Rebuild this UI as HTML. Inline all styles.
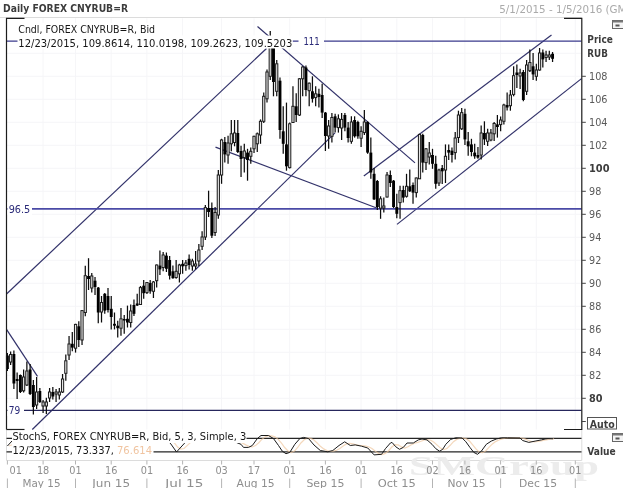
<!DOCTYPE html>
<html><head><meta charset="utf-8"><title>Daily FOREX CNYRUB=R</title>
<style>html,body{margin:0;padding:0;background:#fff}body{width:623px;height:488px;overflow:hidden}svg{display:block;filter:blur(0.45px)}</style></head>
<body>
<svg width="623" height="488" viewBox="0 0 623 488">
<style>
text{font-family:"DejaVu Sans","Liberation Sans",sans-serif;fill:#5a5a5a}
.b{font-weight:bold;fill:#3c3c3c}
.k{fill:#161616}
.lg{fill:#aaaaaa}
.bl{fill:#2a2a78}
.or{fill:#f0c4a0}
.ax{fill:#8e8e8e}
.wm{font-family:"Liberation Serif","DejaVu Serif",serif;font-weight:bold;fill:#ececec}
</style>
<rect x="0" y="0" width="623" height="488" fill="#fff"/>
<g stroke="#dcdcdc" stroke-width="1" fill="none"><path d="M0 17.5H581.8"/><path d="M6.5 460.5H581.8"/><path d="M581.8 429.5V460.5"/><path d="M6.5 429.5V460.5"/></g>
<text x="409" y="474.5" font-size="27" class="wm" textLength="190" lengthAdjust="spacingAndGlyphs">SMGroup</text>
<g stroke="#f6f6f8" stroke-width="1" fill="none"><path d="M43.1 18.3V429.5" /><path d="M75.5 18.3V429.5" /><path d="M111.2 18.3V429.5" /><path d="M146.9 18.3V429.5" /><path d="M182.6 18.3V429.5" /><path d="M221.6 18.3V429.5" /><path d="M254.0 18.3V429.5" /><path d="M289.7 18.3V429.5" /><path d="M325.4 18.3V429.5" /><path d="M361.1 18.3V429.5" /><path d="M396.8 18.3V429.5" /><path d="M432.5 18.3V429.5" /><path d="M464.9 18.3V429.5" /><path d="M500.6 18.3V429.5" /><path d="M536.3 18.3V429.5" /><path d="M575.3 18.3V429.5" /><path d="M6.5 398.3H581.8"/><path d="M6.5 375.3H581.8"/><path d="M6.5 352.3H581.8"/><path d="M6.5 329.3H581.8"/><path d="M6.5 306.3H581.8"/><path d="M6.5 283.3H581.8"/><path d="M6.5 260.3H581.8"/><path d="M6.5 237.3H581.8"/><path d="M6.5 214.3H581.8"/><path d="M6.5 191.3H581.8"/><path d="M6.5 168.3H581.8"/><path d="M6.5 145.3H581.8"/><path d="M6.5 122.3H581.8"/><path d="M6.5 99.3H581.8"/><path d="M6.5 76.3H581.8"/><path d="M6.5 53.3H581.8"/></g>
<g stroke="#32326a" stroke-width="1.2" fill="none">
<path d="M6.5 294.0L266.5 48.5"/>
<path d="M32.3 429.5L335.0 132.9"/>
<path d="M6.5 329.4L37.5 376.3"/>
<path d="M257.5 26.5L415.0 162.9"/>
<path d="M215.5 147.1L378.0 208.5"/>
<path d="M363.8 175.9L551.5 35.1"/>
<path d="M397.0 224.4L581.5 78.6"/>
</g>
<g fill="none">
<path d="M6.5 41.2H581.5" stroke="#3a3a8c" stroke-width="1.3"/>
<path d="M6.5 208.8H581.5" stroke="#4a4aa6" stroke-width="1.7"/>
<path d="M6.5 410.4H581.5" stroke="#26265c" stroke-width="1.2"/>
</g>
<g><style>.w{stroke:#0c0c0c;stroke-width:1.25;fill:none}.d{fill:#000;stroke:none}.u{fill:#e6e6e6;stroke:#1c1c1c;stroke-width:1}</style><path d="M7.40 353.0V371.0" class="w"/><rect x="5.95" y="355.5" width="2.9" height="13.5" class="d"/><path d="M10.64 351.5V365.0" class="w"/><rect x="9.54" y="354.5" width="2.2" height="7.5" class="u"/><path d="M13.89 350.5V389.0" class="w"/><rect x="12.44" y="354.0" width="2.9" height="29.5" class="d"/><path d="M17.13 372.6V399.0" class="w"/><rect x="15.68" y="379.0" width="2.9" height="2.0" class="d"/><path d="M20.38 374.5V393.0" class="w"/><rect x="18.93" y="375.0" width="2.9" height="17.0" class="d"/><path d="M23.62 369.5V392.5" class="w"/><rect x="22.52" y="377.0" width="2.2" height="13.8" class="u"/><path d="M26.87 361.5V386.0" class="w"/><rect x="25.77" y="371.0" width="2.2" height="14.0" class="u"/><path d="M30.12 364.0V395.0" class="w"/><rect x="28.67" y="369.5" width="2.9" height="24.5" class="d"/><path d="M33.36 380.0V414.5" class="w"/><rect x="31.91" y="385.0" width="2.9" height="22.0" class="d"/><path d="M36.61 377.0V409.0" class="w"/><rect x="35.51" y="392.0" width="2.2" height="13.0" class="u"/><path d="M39.85 388.0V403.0" class="w"/><rect x="38.40" y="391.0" width="2.9" height="11.0" class="d"/><path d="M43.09 400.0V413.0" class="w"/><rect x="41.99" y="402.0" width="2.2" height="4.0" class="u"/><path d="M46.34 397.7V414.0" class="w"/><rect x="45.24" y="402.0" width="2.2" height="4.0" class="u"/><path d="M49.59 388.0V402.0" class="w"/><rect x="48.48" y="392.0" width="2.2" height="6.0" class="u"/><path d="M52.83 387.0V399.6" class="w"/><rect x="51.38" y="392.0" width="2.9" height="4.5" class="d"/><path d="M56.08 389.0V402.0" class="w"/><rect x="54.98" y="392.0" width="2.2" height="2.0" class="u"/><path d="M59.32 388.0V399.5" class="w"/><rect x="58.22" y="392.0" width="2.2" height="3.0" class="u"/><path d="M62.56 374.0V393.0" class="w"/><rect x="61.46" y="379.0" width="2.2" height="13.0" class="u"/><path d="M65.81 354.5V380.8" class="w"/><rect x="64.71" y="360.8" width="2.2" height="12.5" class="u"/><path d="M69.06 336.0V360.0" class="w"/><rect x="67.96" y="344.0" width="2.2" height="11.0" class="u"/><path d="M72.30 332.0V351.3" class="w"/><rect x="70.85" y="343.8" width="2.9" height="3.8" class="d"/><path d="M75.55 323.8V352.6" class="w"/><rect x="74.45" y="324.4" width="2.2" height="23.8" class="u"/><path d="M78.79 321.3V347.0" class="w"/><rect x="77.34" y="326.3" width="2.9" height="13.7" class="d"/><path d="M82.04 310.0V345.0" class="w"/><rect x="80.94" y="310.6" width="2.2" height="29.4" class="u"/><path d="M85.28 265.7V316.3" class="w"/><rect x="84.18" y="275.7" width="2.2" height="36.8" class="u"/><path d="M88.53 258.2V290.0" class="w"/><rect x="87.08" y="276.0" width="2.9" height="3.0" class="d"/><path d="M91.77 273.0V292.6" class="w"/><rect x="90.67" y="276.0" width="2.2" height="12.0" class="u"/><path d="M95.02 277.0V295.0" class="w"/><rect x="93.57" y="280.7" width="2.9" height="6.3" class="d"/><path d="M98.26 287.0V323.2" class="w"/><rect x="96.81" y="287.6" width="2.9" height="24.9" class="d"/><path d="M101.51 296.0V322.5" class="w"/><rect x="100.41" y="302.5" width="2.2" height="9.5" class="u"/><path d="M104.75 293.0V313.8" class="w"/><rect x="103.30" y="293.8" width="2.9" height="16.8" class="d"/><path d="M108.00 288.0V312.5" class="w"/><rect x="106.55" y="296.0" width="2.9" height="14.0" class="d"/><path d="M111.24 296.0V329.4" class="w"/><rect x="109.79" y="308.8" width="2.9" height="8.2" class="d"/><path d="M114.49 312.5V329.4" class="w"/><rect x="113.04" y="323.8" width="2.9" height="1.9" class="d"/><path d="M117.73 320.7V337.6" class="w"/><rect x="116.28" y="325.7" width="2.9" height="2.5" class="d"/><path d="M120.98 308.0V335.7" class="w"/><rect x="119.88" y="318.8" width="2.2" height="9.4" class="u"/><path d="M124.22 315.0V333.8" class="w"/><rect x="122.77" y="319.0" width="2.9" height="1.5" class="d"/><path d="M127.47 305.6V327.5" class="w"/><rect x="126.02" y="318.8" width="2.9" height="3.7" class="d"/><path d="M130.71 304.4V327.5" class="w"/><rect x="129.61" y="311.0" width="2.2" height="11.5" class="u"/><path d="M133.96 299.5V316.0" class="w"/><rect x="132.51" y="305.0" width="2.9" height="8.8" class="d"/><path d="M137.20 293.8V306.0" class="w"/><rect x="135.75" y="303.5" width="2.9" height="2.0" class="d"/><path d="M140.45 286.0V305.0" class="w"/><rect x="139.35" y="287.6" width="2.2" height="16.9" class="u"/><path d="M143.69 280.0V298.8" class="w"/><rect x="142.24" y="285.7" width="2.9" height="7.5" class="d"/><path d="M146.94 282.0V294.0" class="w"/><rect x="145.84" y="282.5" width="2.2" height="10.1" class="u"/><path d="M150.18 280.0V293.8" class="w"/><rect x="148.73" y="283.0" width="2.9" height="8.3" class="d"/><path d="M153.43 281.0V298.0" class="w"/><rect x="152.33" y="282.0" width="2.2" height="9.3" class="u"/><path d="M156.67 264.4V287.6" class="w"/><rect x="155.57" y="265.0" width="2.2" height="15.7" class="u"/><path d="M159.92 250.6V275.0" class="w"/><rect x="158.47" y="265.6" width="2.9" height="3.8" class="d"/><path d="M163.16 252.0V271.3" class="w"/><rect x="162.06" y="255.0" width="2.2" height="12.5" class="u"/><path d="M166.41 252.5V272.0" class="w"/><rect x="164.96" y="255.6" width="2.9" height="13.2" class="d"/><path d="M169.65 256.0V279.4" class="w"/><rect x="168.20" y="260.0" width="2.9" height="15.7" class="d"/><path d="M172.90 265.6V278.8" class="w"/><rect x="171.45" y="271.3" width="2.9" height="6.9" class="d"/><path d="M176.14 260.0V278.8" class="w"/><rect x="175.04" y="271.3" width="2.2" height="6.2" class="u"/><path d="M179.39 263.8V282.5" class="w"/><rect x="178.29" y="265.0" width="2.2" height="8.8" class="u"/><path d="M182.63 260.0V273.8" class="w"/><rect x="181.18" y="263.8" width="2.9" height="2.5" class="d"/><path d="M185.88 260.0V270.7" class="w"/><rect x="184.78" y="263.0" width="2.2" height="2.6" class="u"/><path d="M189.12 254.4V269.4" class="w"/><rect x="187.67" y="258.8" width="2.9" height="6.2" class="d"/><path d="M192.37 258.8V270.7" class="w"/><rect x="191.27" y="261.0" width="2.2" height="5.0" class="u"/><path d="M195.61 251.0V269.4" class="w"/><rect x="194.51" y="264.0" width="2.2" height="2.0" class="u"/><path d="M198.86 244.0V266.0" class="w"/><rect x="197.76" y="250.0" width="2.2" height="11.0" class="u"/><path d="M202.10 231.3V250.0" class="w"/><rect x="201.00" y="237.0" width="2.2" height="9.3" class="u"/><path d="M205.34 205.0V240.0" class="w"/><rect x="204.25" y="207.6" width="2.2" height="29.4" class="u"/><path d="M208.59 190.7V217.0" class="w"/><rect x="207.14" y="208.0" width="2.9" height="4.0" class="d"/><path d="M211.84 202.6V238.0" class="w"/><rect x="210.39" y="208.0" width="2.9" height="27.7" class="d"/><path d="M215.08 207.0V236.0" class="w"/><rect x="213.98" y="212.5" width="2.2" height="20.0" class="u"/><path d="M218.33 170.0V218.8" class="w"/><rect x="217.23" y="175.0" width="2.2" height="40.0" class="u"/><path d="M221.57 138.8V183.8" class="w"/><rect x="220.47" y="140.0" width="2.2" height="35.0" class="u"/><path d="M224.82 137.0V162.6" class="w"/><rect x="223.37" y="142.0" width="2.9" height="12.4" class="d"/><path d="M228.06 135.7V163.8" class="w"/><rect x="226.96" y="143.0" width="2.2" height="12.0" class="u"/><path d="M231.31 120.0V151.3" class="w"/><rect x="230.21" y="133.8" width="2.2" height="10.0" class="u"/><path d="M234.55 120.0V146.3" class="w"/><rect x="233.45" y="133.0" width="2.2" height="9.5" class="u"/><path d="M237.80 120.0V153.0" class="w"/><rect x="236.35" y="133.0" width="2.9" height="19.0" class="d"/><path d="M241.04 145.7V177.0" class="w"/><rect x="239.59" y="151.0" width="2.9" height="8.0" class="d"/><path d="M244.29 143.8V172.5" class="w"/><rect x="243.19" y="151.0" width="2.2" height="6.6" class="u"/><path d="M247.53 148.8V180.7" class="w"/><rect x="246.08" y="152.6" width="2.9" height="7.4" class="d"/><path d="M250.78 147.6V163.8" class="w"/><rect x="249.68" y="151.3" width="2.2" height="5.0" class="u"/><path d="M254.02 135.7V153.0" class="w"/><rect x="252.92" y="136.3" width="2.2" height="12.5" class="u"/><path d="M257.26 132.5V152.0" class="w"/><rect x="256.16" y="133.8" width="2.2" height="10.0" class="u"/><path d="M260.51 119.4V143.8" class="w"/><rect x="259.41" y="121.3" width="2.2" height="13.7" class="u"/><path d="M263.75 92.5V123.0" class="w"/><rect x="262.65" y="96.3" width="2.2" height="25.0" class="u"/><path d="M267.00 69.4V102.6" class="w"/><rect x="265.90" y="72.0" width="2.2" height="26.8" class="u"/><path d="M270.25 31.0V80.0" class="w"/><rect x="269.14" y="40.0" width="2.2" height="36.3" class="u"/><path d="M273.49 42.0V96.3" class="w"/><rect x="272.04" y="45.0" width="2.9" height="37.0" class="d"/><path d="M276.74 60.0V96.3" class="w"/><rect x="275.63" y="63.8" width="2.2" height="27.5" class="u"/><path d="M279.98 77.5V138.8" class="w"/><rect x="278.53" y="80.7" width="2.9" height="49.3" class="d"/><path d="M283.22 106.3V153.8" class="w"/><rect x="281.77" y="131.3" width="2.9" height="12.5" class="d"/><path d="M286.47 102.6V170.7" class="w"/><rect x="285.02" y="144.4" width="2.9" height="21.9" class="d"/><path d="M289.71 122.5V168.5" class="w"/><rect x="288.61" y="123.8" width="2.2" height="43.8" class="u"/><path d="M292.96 86.3V123.0" class="w"/><rect x="291.86" y="106.3" width="2.2" height="16.2" class="u"/><path d="M296.20 93.2V122.0" class="w"/><rect x="294.75" y="106.3" width="2.9" height="8.7" class="d"/><path d="M299.45 78.0V116.0" class="w"/><rect x="298.35" y="78.8" width="2.2" height="36.2" class="u"/><path d="M302.69 66.3V96.3" class="w"/><rect x="301.59" y="67.0" width="2.2" height="11.8" class="u"/><path d="M305.94 65.6V96.3" class="w"/><rect x="304.49" y="67.5" width="2.9" height="22.5" class="d"/><path d="M309.19 82.5V106.3" class="w"/><rect x="308.08" y="83.2" width="2.2" height="7.5" class="u"/><path d="M312.43 76.3V102.6" class="w"/><rect x="310.98" y="91.3" width="2.9" height="7.5" class="d"/><path d="M315.68 86.3V106.3" class="w"/><rect x="314.57" y="93.8" width="2.2" height="3.8" class="u"/><path d="M318.92 88.8V107.6" class="w"/><rect x="317.47" y="93.8" width="2.9" height="3.2" class="d"/><path d="M322.16 83.8V118.0" class="w"/><rect x="320.71" y="95.0" width="2.9" height="17.6" class="d"/><path d="M325.41 112.0V151.0" class="w"/><rect x="323.96" y="112.6" width="2.9" height="23.4" class="d"/><path d="M328.65 120.0V148.8" class="w"/><rect x="327.55" y="126.0" width="2.2" height="10.0" class="u"/><path d="M331.90 113.0V142.6" class="w"/><rect x="330.80" y="117.5" width="2.2" height="18.8" class="u"/><path d="M335.14 113.8V132.6" class="w"/><rect x="333.69" y="116.3" width="2.9" height="11.3" class="d"/><path d="M338.39 114.4V132.6" class="w"/><rect x="337.29" y="118.8" width="2.2" height="8.8" class="u"/><path d="M341.63 113.0V140.0" class="w"/><rect x="340.53" y="119.4" width="2.2" height="8.6" class="u"/><path d="M344.88 113.0V131.3" class="w"/><rect x="343.43" y="115.0" width="2.9" height="12.6" class="d"/><path d="M348.12 122.0V142.6" class="w"/><rect x="346.68" y="127.6" width="2.9" height="10.4" class="d"/><path d="M351.37 116.3V143.8" class="w"/><rect x="350.27" y="122.0" width="2.2" height="19.3" class="u"/><path d="M354.62 116.3V137.6" class="w"/><rect x="353.17" y="120.0" width="2.9" height="16.3" class="d"/><path d="M357.86 120.7V138.8" class="w"/><rect x="356.41" y="122.0" width="2.9" height="14.3" class="d"/><path d="M361.10 126.3V147.0" class="w"/><rect x="360.00" y="131.3" width="2.2" height="6.9" class="u"/><path d="M364.35 110.0V135.0" class="w"/><rect x="363.25" y="122.0" width="2.2" height="10.6" class="u"/><path d="M367.59 121.3V153.8" class="w"/><rect x="366.14" y="122.0" width="2.9" height="30.6" class="d"/><path d="M370.84 137.6V178.8" class="w"/><rect x="369.39" y="152.6" width="2.9" height="19.9" class="d"/><path d="M374.08 168.0V200.0" class="w"/><rect x="372.63" y="173.8" width="2.9" height="25.6" class="d"/><path d="M377.33 180.0V210.0" class="w"/><rect x="375.88" y="181.0" width="2.9" height="26.0" class="d"/><path d="M380.57 196.3V218.8" class="w"/><rect x="379.47" y="198.8" width="2.2" height="9.4" class="u"/><path d="M383.82 197.6V212.6" class="w"/><rect x="382.72" y="206.0" width="2.2" height="2.0" class="u"/><path d="M387.06 172.0V197.6" class="w"/><rect x="385.96" y="175.0" width="2.2" height="22.0" class="u"/><path d="M390.31 170.6V187.0" class="w"/><rect x="388.86" y="175.0" width="2.9" height="8.0" class="d"/><path d="M393.56 180.0V208.0" class="w"/><rect x="392.11" y="180.7" width="2.9" height="26.3" class="d"/><path d="M396.80 193.8V218.2" class="w"/><rect x="395.35" y="207.0" width="2.9" height="6.8" class="d"/><path d="M400.05 185.7V218.8" class="w"/><rect x="398.94" y="190.7" width="2.2" height="11.9" class="u"/><path d="M403.29 185.7V202.6" class="w"/><rect x="401.84" y="190.0" width="2.9" height="7.6" class="d"/><path d="M406.53 173.8V197.6" class="w"/><rect x="405.43" y="186.3" width="2.2" height="10.0" class="u"/><path d="M409.78 169.4V192.0" class="w"/><rect x="408.33" y="186.3" width="2.9" height="5.0" class="d"/><path d="M413.02 182.5V203.8" class="w"/><rect x="411.57" y="185.0" width="2.9" height="7.6" class="d"/><path d="M416.27 177.5V197.6" class="w"/><rect x="415.17" y="178.0" width="2.2" height="14.6" class="u"/><path d="M419.51 133.8V179.0" class="w"/><rect x="418.41" y="134.4" width="2.2" height="44.4" class="u"/><path d="M422.76 133.8V172.6" class="w"/><rect x="421.31" y="135.0" width="2.9" height="27.6" class="d"/><path d="M426.00 148.0V170.0" class="w"/><rect x="424.90" y="148.8" width="2.2" height="13.8" class="u"/><path d="M429.25 142.0V164.4" class="w"/><rect x="428.15" y="153.0" width="2.2" height="4.0" class="u"/><path d="M432.50 148.8V168.8" class="w"/><rect x="431.05" y="155.0" width="2.9" height="8.8" class="d"/><path d="M435.74 155.7V188.8" class="w"/><rect x="434.29" y="163.8" width="2.9" height="20.0" class="d"/><path d="M438.99 168.8V186.0" class="w"/><rect x="437.88" y="170.0" width="2.2" height="13.0" class="u"/><path d="M442.23 165.0V184.0" class="w"/><rect x="440.78" y="168.0" width="2.9" height="3.3" class="d"/><path d="M445.47 144.4V183.0" class="w"/><rect x="444.37" y="156.3" width="2.2" height="13.7" class="u"/><path d="M448.72 144.4V160.0" class="w"/><rect x="447.27" y="150.0" width="2.9" height="2.6" class="d"/><path d="M451.96 147.5V162.6" class="w"/><rect x="450.51" y="150.7" width="2.9" height="4.3" class="d"/><path d="M455.21 132.0V159.4" class="w"/><rect x="454.11" y="138.0" width="2.2" height="14.6" class="u"/><path d="M458.45 110.7V143.0" class="w"/><rect x="457.35" y="115.0" width="2.2" height="22.5" class="u"/><path d="M461.70 108.0V130.0" class="w"/><rect x="460.60" y="112.6" width="2.2" height="16.2" class="u"/><path d="M464.94 108.8V145.0" class="w"/><rect x="463.50" y="113.8" width="2.9" height="25.6" class="d"/><path d="M468.19 132.0V155.7" class="w"/><rect x="466.74" y="141.3" width="2.9" height="5.0" class="d"/><path d="M471.44 138.8V156.3" class="w"/><rect x="469.99" y="144.4" width="2.9" height="7.6" class="d"/><path d="M474.68 143.8V158.8" class="w"/><rect x="473.23" y="152.6" width="2.9" height="3.7" class="d"/><path d="M477.93 147.0V158.8" class="w"/><rect x="476.48" y="155.0" width="2.9" height="2.6" class="d"/><path d="M481.17 125.6V159.4" class="w"/><rect x="480.07" y="133.0" width="2.2" height="22.0" class="u"/><path d="M484.42 121.3V145.0" class="w"/><rect x="482.97" y="133.0" width="2.9" height="6.4" class="d"/><path d="M487.66 128.8V146.0" class="w"/><rect x="486.56" y="133.0" width="2.2" height="8.3" class="u"/><path d="M490.90 129.0V141.3" class="w"/><rect x="489.80" y="133.0" width="2.2" height="7.0" class="u"/><path d="M494.15 122.0V141.0" class="w"/><rect x="493.05" y="123.5" width="2.2" height="10.3" class="u"/><path d="M497.39 115.0V137.6" class="w"/><rect x="495.94" y="124.4" width="2.9" height="2.6" class="d"/><path d="M500.64 116.5V131.3" class="w"/><rect x="499.54" y="120.0" width="2.2" height="4.6" class="u"/><path d="M503.88 103.8V124.4" class="w"/><rect x="502.78" y="105.0" width="2.2" height="16.3" class="u"/><path d="M507.13 92.5V110.5" class="w"/><rect x="505.68" y="105.0" width="2.9" height="2.5" class="d"/><path d="M510.38 90.0V110.7" class="w"/><rect x="509.27" y="95.0" width="2.2" height="10.7" class="u"/><path d="M513.62 66.3V96.3" class="w"/><rect x="512.52" y="75.7" width="2.2" height="18.7" class="u"/><path d="M516.87 64.4V88.0" class="w"/><rect x="515.41" y="72.5" width="2.9" height="2.5" class="d"/><path d="M520.11 68.8V89.0" class="w"/><rect x="519.01" y="73.0" width="2.2" height="3.0" class="u"/><path d="M523.36 70.0V101.3" class="w"/><rect x="521.90" y="72.0" width="2.9" height="28.0" class="d"/><path d="M526.60 60.0V95.0" class="w"/><rect x="525.50" y="65.0" width="2.2" height="26.3" class="u"/><path d="M529.85 49.4V72.0" class="w"/><rect x="528.75" y="62.5" width="2.2" height="8.2" class="u"/><path d="M533.09 53.0V80.0" class="w"/><rect x="531.64" y="66.3" width="2.9" height="8.1" class="d"/><path d="M536.34 63.8V80.7" class="w"/><rect x="535.24" y="70.0" width="2.2" height="6.3" class="u"/><path d="M539.58 48.0V70.7" class="w"/><rect x="538.48" y="53.0" width="2.2" height="17.0" class="u"/><path d="M542.83 49.4V67.5" class="w"/><rect x="541.38" y="52.5" width="2.9" height="6.9" class="d"/><path d="M546.07 50.7V62.0" class="w"/><rect x="544.97" y="55.0" width="2.2" height="2.5" class="u"/><path d="M549.31 50.7V60.0" class="w"/><rect x="548.21" y="55.0" width="2.2" height="2.0" class="u"/><path d="M552.56 52.0V62.0" class="w"/><rect x="551.11" y="53.8" width="2.9" height="5.0" class="d"/></g>
<g stroke="#1c1c1c" stroke-width="1.2" fill="none">
<path d="M6.5 429.5V18.3H24.5"/>
<path d="M564 18.3H581.8V429.5H564"/>
<path d="M6.5 429.5H24.5"/>
</g>
<g fill="none"><path d="M6.5 438.4H581.5M6.5 451.9H581.5" stroke="#262626" stroke-width="1.4"/><path d="M8.9 446.0L12.1 444.8L15.4 443.1L18.6 441.2L21.9 440.4L25.1 440.1L28.4 439.8L31.6 439.4L34.9 439.1L38.1 438.7L41.3 438.4L44.6 438.4L47.8 438.9L51.1 439.9L54.3 440.9L57.6 441.8L60.8 442.8L64.1 443.8L67.3 444.8L70.6 445.7L73.8 446.7L77.0 447.7L80.3 448.7L83.5 449.2L86.8 449.2L90.0 448.5L93.3 447.7L96.5 446.8L99.8 445.9L103.0 445.0L106.2 444.1L109.5 443.2L112.7 442.3L116.0 441.4L119.2 440.5L122.5 439.7L125.7 439.2L129.0 439.0L132.2 439.0L135.5 439.0L138.7 439.0L141.9 439.0L145.2 439.0L148.4 439.0L151.7 439.0L154.9 439.0L158.2 438.8L161.4 438.3L164.7 438.0L167.9 438.4L171.1 440.1L174.4 443.0L177.6 447.0L180.9 449.1L184.1 448.5L187.4 445.4L190.6 442.4L193.9 440.1L197.1 438.7L200.4 437.9L203.6 437.4L206.8 437.2L210.1 437.4L213.3 437.6L216.6 437.8L219.8 438.1L223.1 438.4L226.3 438.9L229.6 439.3L232.8 439.9L236.0 440.7L239.3 441.8L242.5 443.1L245.8 444.9L249.0 446.4L252.3 447.0L255.5 445.6L258.8 442.7L262.0 439.2L265.3 436.7L268.5 435.6L271.7 435.9L275.0 436.9L278.2 439.4L281.5 443.1L284.7 447.5L288.0 451.0L291.2 452.6L294.5 451.1L297.7 447.5L300.9 443.0L304.2 439.8L307.4 438.2L310.7 438.3L313.9 440.1L317.2 443.0L320.4 446.3L323.7 448.9L326.9 450.5L330.2 451.3L333.4 451.2L336.6 450.3L339.9 448.4L343.1 446.1L346.4 443.9L349.6 443.3L352.9 443.8L356.1 444.8L359.4 445.3L362.6 445.5L365.8 446.2L369.1 447.0L372.3 448.8L375.6 451.4L378.8 453.6L382.1 454.6L385.3 453.4L388.6 450.7L391.8 447.0L395.1 444.7L398.3 444.9L401.5 446.9L404.8 448.0L408.0 446.7L411.3 444.7L414.5 443.2L417.8 442.4L421.0 441.3L424.3 440.0L427.5 439.5L430.7 440.2L434.0 442.2L437.2 445.1L440.5 448.1L443.7 449.7L447.0 448.4L450.2 445.3L453.5 441.7L456.7 439.4L460.0 438.3L463.2 438.0L466.4 438.9L469.7 441.3L472.9 445.1L476.2 449.1L479.4 452.1L482.7 452.7L485.9 450.7L489.2 447.2L492.4 443.9L495.6 441.6L498.9 440.0L502.1 438.9L505.4 438.2L508.6 437.9L511.9 437.8L515.1 437.8L518.4 437.9L521.6 438.0L524.9 438.9L528.1 440.2L531.3 441.5L534.6 441.8L537.8 441.5L541.1 440.9L544.3 440.2L547.6 439.6L550.8 439.0L554.1 438.8" stroke="#f0c8a0" stroke-width="1.2" opacity="0.7"/><path d="M7.4 446.0L12.0 441.0L40.0 438.0L80.0 450.0L120.0 439.0L154.0 439.0L160.0 437.5L166.0 439.0L170.9 444.0L176.5 452.0L184.5 443.2L190.0 439.0L200.0 437.0L215.0 438.0L230.0 440.0L241.0 444.3L243.5 447.4L248.5 447.4L252.3 445.5L257.3 438.6L261.0 435.5L268.5 435.5L273.5 438.6L278.5 445.5L282.3 451.2L286.0 453.7L289.8 452.4L294.8 444.3L299.8 438.6L303.6 437.4L308.6 438.6L314.0 445.0L320.3 450.5L327.8 451.8L332.8 450.5L339.0 445.5L344.7 441.8L350.3 445.5L355.3 444.9L361.6 446.2L367.8 448.0L374.1 454.9L381.6 454.3L385.4 448.7L390.4 443.0L392.0 442.4L395.8 446.8L399.5 449.3L403.3 447.4L407.0 443.0L413.3 443.0L418.3 439.9L422.0 439.0L427.0 439.9L432.0 444.3L435.8 448.7L439.6 451.2L442.7 449.3L445.8 444.3L450.8 439.3L455.9 437.8L462.1 438.0L465.9 441.8L470.0 447.5L473.8 452.4L477.5 454.3L481.3 451.2L486.3 444.3L491.3 441.1L496.3 439.0L501.3 437.8L507.6 437.8L520.0 438.0L522.6 440.5L528.8 442.4L535.1 441.1L541.4 439.9L545.1 439.0L548.0 438.6L553.0 438.8" stroke="#1a1a1a" stroke-width="1"/></g>
<g stroke="#444" stroke-width="1">
<path d="M581.8 398.3h4"/>
<path d="M581.8 375.3h4"/>
<path d="M581.8 352.3h4"/>
<path d="M581.8 329.3h4"/>
<path d="M581.8 306.3h4"/>
<path d="M581.8 283.3h4"/>
<path d="M581.8 260.3h4"/>
<path d="M581.8 237.3h4"/>
<path d="M581.8 214.3h4"/>
<path d="M581.8 191.3h4"/>
<path d="M581.8 168.3h4"/>
<path d="M581.8 145.3h4"/>
<path d="M581.8 122.3h4"/>
<path d="M581.8 99.3h4"/>
<path d="M581.8 76.3h4"/>
<path d="M581.8 421.5h4"/>
</g>
<g font-size="10">
<text x="589" y="402.3" class="b" textLength="13.5" lengthAdjust="spacingAndGlyphs">80</text>
<text x="589" y="379.3" textLength="12.3" lengthAdjust="spacingAndGlyphs">82</text>
<text x="589" y="356.3" textLength="12.3" lengthAdjust="spacingAndGlyphs">84</text>
<text x="589" y="333.3" textLength="12.3" lengthAdjust="spacingAndGlyphs">86</text>
<text x="589" y="310.3" textLength="12.3" lengthAdjust="spacingAndGlyphs">88</text>
<text x="589" y="287.3" textLength="12.3" lengthAdjust="spacingAndGlyphs">90</text>
<text x="589" y="264.3" textLength="12.3" lengthAdjust="spacingAndGlyphs">92</text>
<text x="589" y="241.3" textLength="12.3" lengthAdjust="spacingAndGlyphs">94</text>
<text x="589" y="218.3" textLength="12.3" lengthAdjust="spacingAndGlyphs">96</text>
<text x="589" y="195.3" textLength="12.3" lengthAdjust="spacingAndGlyphs">98</text>
<text x="589" y="172.3" class="b" textLength="20.5" lengthAdjust="spacingAndGlyphs">100</text>
<text x="589" y="149.3" textLength="18.5" lengthAdjust="spacingAndGlyphs">102</text>
<text x="589" y="126.3" textLength="18.5" lengthAdjust="spacingAndGlyphs">104</text>
<text x="589" y="103.3" textLength="18.5" lengthAdjust="spacingAndGlyphs">106</text>
<text x="589" y="80.3" textLength="18.5" lengthAdjust="spacingAndGlyphs">108</text>
</g>
<g stroke="#b4b4b4" stroke-width="1" fill="none">
<path d="M7.4 460.5v4"/>
<path d="M43.1 460.5v4"/>
<path d="M75.5 460.5v4"/>
<path d="M111.2 460.5v4"/>
<path d="M146.9 460.5v4"/>
<path d="M182.6 460.5v4"/>
<path d="M221.6 460.5v4"/>
<path d="M254.0 460.5v4"/>
<path d="M289.7 460.5v4"/>
<path d="M325.4 460.5v4"/>
<path d="M361.1 460.5v4"/>
<path d="M396.8 460.5v4"/>
<path d="M432.5 460.5v4"/>
<path d="M464.9 460.5v4"/>
<path d="M500.6 460.5v4"/>
<path d="M536.3 460.5v4"/>
<path d="M575.3 460.5v4"/>
<path d="M7.4 478.5V488"/>
<path d="M75.5 478.5V488"/>
<path d="M146.9 478.5V488"/>
<path d="M221.6 478.5V488"/>
<path d="M289.7 478.5V488"/>
<path d="M361.1 478.5V488"/>
<path d="M432.5 478.5V488"/>
<path d="M500.6 478.5V488"/>
<path d="M575.3 478.5V488"/>
</g>
<g font-size="10" text-anchor="middle">
<text x="15.8" y="474.2" class="ax" textLength="12.4" lengthAdjust="spacingAndGlyphs">01</text>
<text x="43.1" y="474.2" class="ax" textLength="12.4" lengthAdjust="spacingAndGlyphs">18</text>
<text x="75.5" y="474.2" class="ax" textLength="12.4" lengthAdjust="spacingAndGlyphs">01</text>
<text x="111.2" y="474.2" class="ax" textLength="12.4" lengthAdjust="spacingAndGlyphs">16</text>
<text x="146.9" y="474.2" class="ax" textLength="12.4" lengthAdjust="spacingAndGlyphs">01</text>
<text x="182.6" y="474.2" class="ax" textLength="12.4" lengthAdjust="spacingAndGlyphs">16</text>
<text x="221.6" y="474.2" class="ax" textLength="12.4" lengthAdjust="spacingAndGlyphs">03</text>
<text x="254.0" y="474.2" class="ax" textLength="12.4" lengthAdjust="spacingAndGlyphs">17</text>
<text x="289.7" y="474.2" class="ax" textLength="12.4" lengthAdjust="spacingAndGlyphs">01</text>
<text x="325.4" y="474.2" class="ax" textLength="12.4" lengthAdjust="spacingAndGlyphs">16</text>
<text x="361.1" y="474.2" class="ax" textLength="12.4" lengthAdjust="spacingAndGlyphs">01</text>
<text x="396.8" y="474.2" class="ax" textLength="12.4" lengthAdjust="spacingAndGlyphs">16</text>
<text x="432.5" y="474.2" class="ax" textLength="12.4" lengthAdjust="spacingAndGlyphs">02</text>
<text x="464.9" y="474.2" class="ax" textLength="12.4" lengthAdjust="spacingAndGlyphs">16</text>
<text x="500.6" y="474.2" class="ax" textLength="12.4" lengthAdjust="spacingAndGlyphs">01</text>
<text x="536.3" y="474.2" class="ax" textLength="12.4" lengthAdjust="spacingAndGlyphs">16</text>
<text x="575.3" y="474.2" class="ax" textLength="12.4" lengthAdjust="spacingAndGlyphs">01</text>
<text x="41.5" y="486.8" class="ax" font-size="10.5" textLength="38" lengthAdjust="spacingAndGlyphs">May 15</text>
<text x="111.2" y="486.8" class="ax" font-size="10.5" textLength="38" lengthAdjust="spacingAndGlyphs">Jun 15</text>
<text x="184.3" y="486.8" class="ax" font-size="10.5" textLength="38" lengthAdjust="spacingAndGlyphs">Jul 15</text>
<text x="255.6" y="486.8" class="ax" font-size="10.5" textLength="38" lengthAdjust="spacingAndGlyphs">Aug 15</text>
<text x="325.4" y="486.8" class="ax" font-size="10.5" textLength="38" lengthAdjust="spacingAndGlyphs">Sep 15</text>
<text x="396.8" y="486.8" class="ax" font-size="10.5" textLength="38" lengthAdjust="spacingAndGlyphs">Oct 15</text>
<text x="466.6" y="486.8" class="ax" font-size="10.5" textLength="38" lengthAdjust="spacingAndGlyphs">Nov 15</text>
<text x="538.0" y="486.8" class="ax" font-size="10.5" textLength="38" lengthAdjust="spacingAndGlyphs">Dec 15</text>
</g>
<g font-size="10"><text x="3" y="12.4" textLength="125" lengthAdjust="spacingAndGlyphs" class="b" font-size="11.2">Daily FOREX CNYRUB=R</text><text x="499.3" y="12.8" textLength="137.5" lengthAdjust="spacingAndGlyphs" class="lg" font-size="10.7">5/1/2015 - 1/5/2016 (GMT)</text><rect x="17.5" y="23" width="139" height="12.5" fill="#fff"/><rect x="17.5" y="35.5" width="275.3" height="13" fill="#fff"/><text x="18.3" y="33.3" textLength="136.7" lengthAdjust="spacingAndGlyphs" class="k">Cndl, FOREX CNYRUB=R, Bid</text><text x="18.3" y="46.5" textLength="274" lengthAdjust="spacingAndGlyphs" class="k">12/23/2015, 109.8614, 110.0198, 109.2623, 109.5203</text><rect x="298.5" y="35.5" width="25.5" height="12" fill="#fff"/><text x="303.4" y="45" textLength="16.3" lengthAdjust="spacingAndGlyphs" class="bl">111</text><rect x="7.5" y="202" width="24.5" height="13" fill="#fff"/><text x="8.7" y="213" textLength="21.6" lengthAdjust="spacingAndGlyphs" class="bl">96.5</text><rect x="7.5" y="403" width="16.5" height="13" fill="#fff"/><text x="8.7" y="414.1" textLength="11.5" lengthAdjust="spacingAndGlyphs" class="bl">79</text><text x="587.3" y="43.3" textLength="25.5" lengthAdjust="spacingAndGlyphs" class="b">Price</text><text x="587.3" y="57.2" textLength="20.5" lengthAdjust="spacingAndGlyphs" class="b">RUB</text><rect x="587.5" y="417.5" width="29" height="11.5" fill="#fff" stroke="#555" stroke-width="1"/><text x="589.8" y="427.8" textLength="25" lengthAdjust="spacingAndGlyphs" class="b">Auto</text><text x="587.3" y="455.2" textLength="28.5" lengthAdjust="spacingAndGlyphs" class="b">Value</text><rect x="12" y="430.5" width="234.5" height="12.5" fill="#fff"/><rect x="12" y="443" width="141.5" height="14" fill="#fff"/><text x="12.5" y="440.2" textLength="233.8" lengthAdjust="spacingAndGlyphs" class="k">StochS, FOREX CNYRUB=R, Bid,  5, 3, Simple, 3</text><text x="12.5" y="454.3" textLength="101.5" lengthAdjust="spacingAndGlyphs" class="k">12/23/2015, 73.337,</text><text x="117" y="454.3" textLength="35" lengthAdjust="spacingAndGlyphs" class="or">76.614</text><g><rect x="612.5" y="20.5" width="11" height="8" fill="#f4f4f4" stroke="#666" stroke-width="1"/><rect x="612.5" y="20.5" width="11" height="2" fill="#777"/><rect x="615.5" y="24.5" width="4" height="2" fill="#555"/></g><g><rect x="612.5" y="433.5" width="11" height="8" fill="#f4f4f4" stroke="#666" stroke-width="1"/><rect x="612.5" y="433.5" width="11" height="2" fill="#777"/><rect x="615.5" y="437.5" width="4" height="2" fill="#555"/></g></g>
</svg>
</body></html>
